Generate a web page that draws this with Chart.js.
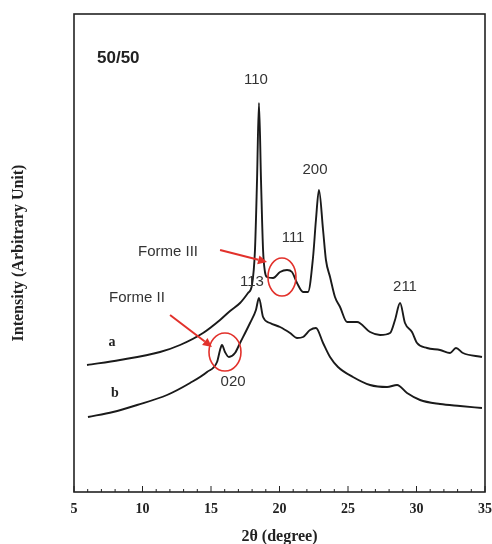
<!DOCTYPE html>
<html>
<head>
<meta charset="utf-8">
<script src="https://cdn.jsdelivr.net/npm/chart.js@4/dist/chart.umd.min.js"></script>
<style>
html,body{margin:0;padding:0;background:#fff;}
#wrap{width:492px;height:544px;}
</style>
</head>
<body>
<div id="wrap"><canvas id="c" width="492" height="544"></canvas></div>
<script>
// ---- data (2θ in degrees, intensity in arbitrary units) ----
const degA = [5.95, 8.36, 11.28, 12.74, 14.42, 15.66, 16.39, 17.12, 17.70, 17.99, 18.21, 18.36, 18.50, 18.65, 18.80, 18.94, 19.09, 19.53, 20.04, 20.55, 20.91, 21.28, 21.72, 22.08, 22.45, 22.66, 22.88, 23.18, 23.39, 23.69, 24.05, 24.42, 24.93, 25.66, 26.61, 27.34, 28.07, 28.43, 28.80, 29.16, 29.67, 30.04, 30.77, 31.72, 32.45, 32.88, 33.39, 34.78];
const intA = [127, 132, 140, 147, 159, 172, 181, 189, 199, 207, 242, 312, 389, 312, 242, 220, 215, 214, 220, 222, 220, 209, 200, 200, 235, 272, 302, 262, 232, 215, 195, 185, 170, 170, 160, 157, 159, 172, 189, 169, 160, 149, 144, 142, 139, 144, 139, 135];
const degB = [6.02, 7.85, 9.60, 11.79, 13.47, 14.71, 15.44, 15.66, 15.80, 16.02, 16.31, 16.75, 17.12, 17.85, 18.28, 18.50, 18.80, 19.31, 20.04, 20.77, 21.28, 21.72, 22.23, 22.66, 23.18, 23.69, 24.27, 25.36, 26.61, 27.85, 28.58, 29.31, 30.26, 31.72, 33.18, 34.78];
const intB = [75, 80, 87, 97, 109, 120, 130, 142, 147, 140, 135, 139, 149, 169, 182, 194, 175, 169, 165, 159, 154, 155, 162, 164, 149, 135, 125, 115, 107, 105, 107, 99, 92, 88, 86, 84];
const xTickValues = [5, 10, 15, 20, 25, 30, 35];
const seriesNames = ['a', 'b'];
const xTitle = '2θ (degree)';
const yTitle = 'Intensity (Arbitrary Unit)';
const sampleLabel = '50/50';
const peakLabels = ['110', '200', '111', '113', '211', '020'];
const peakLabelPos = [[18.28, 412], [22.59, 322], [20.99, 254], [17.99, 210], [29.16, 205], [16.61, 110]];
const formeLabels = ['Forme III', 'Forme II'];
const formeLabelPos = [[11.86, 240], [9.60, 194]];
const formeCircles = [[20.18, 215], [16.02, 140]];
const formeArrows = [[[15.66, 242], [19.09, 230]], [[12.01, 177], [15.07, 145]]];
const seriesLabelPos = [[7.77, 150], [7.99, 99]];
const sampleLabelPos = [6.68, 434];

const SANS = '"Liberation Sans", Arial, sans-serif';
const SERIF = '"Liberation Serif", "Times New Roman", serif';
const RED = '#e2312b';

const decor = {
  id: 'decor',
  afterDatasetsDraw(chart) {
    const ctx = chart.ctx, xs = chart.scales.x, ys = chart.scales.y, ca = chart.chartArea;
    const px = v => xs.getPixelForValue(v), py = v => ys.getPixelForValue(v);
    ctx.save();
    // frame
    ctx.strokeStyle = '#222'; ctx.lineWidth = 1.6;
    ctx.strokeRect(ca.left, ca.top, ca.right - ca.left, ca.bottom - ca.top);
    // inward minor / major ticks
    ctx.lineWidth = 1;
    for (let d = xs.min; d <= xs.max; d++) {
      const x = px(d), len = (d % 5 === 0) ? 6 : 3;
      ctx.beginPath(); ctx.moveTo(x, ca.bottom); ctx.lineTo(x, ca.bottom - len); ctx.stroke();
    }
    // sample label
    ctx.fillStyle = '#222'; ctx.textBaseline = 'middle';
    ctx.font = 'bold 17px ' + SANS; ctx.textAlign = 'left';
    ctx.fillText(sampleLabel, px(sampleLabelPos[0]), py(sampleLabelPos[1]));
    // peak labels
    ctx.font = '15px ' + SANS; ctx.textAlign = 'center'; ctx.fillStyle = '#333';
    peakLabels.forEach((t, i) => ctx.fillText(t, px(peakLabelPos[i][0]), py(peakLabelPos[i][1])));
    formeLabels.forEach((t, i) => ctx.fillText(t, px(formeLabelPos[i][0]), py(formeLabelPos[i][1])));
    // series labels
    ctx.font = 'bold 14px ' + SERIF; ctx.fillStyle = '#222';
    seriesNames.forEach((t, i) => ctx.fillText(t, px(seriesLabelPos[i][0]), py(seriesLabelPos[i][1])));
    // red circles
    ctx.strokeStyle = RED; ctx.lineWidth = 1.6;
    const radii = [[14, 19], [16, 19]];
    formeCircles.forEach((c, i) => {
      ctx.beginPath();
      ctx.ellipse(px(c[0]), py(c[1]), radii[i][0], radii[i][1], 0, 0, Math.PI * 2);
      ctx.stroke();
    });
    // red arrows
    ctx.fillStyle = RED; ctx.lineWidth = 2;
    formeArrows.forEach(a => {
      const x1 = px(a[0][0]), y1 = py(a[0][1]), x2 = px(a[1][0]), y2 = py(a[1][1]);
      const ang = Math.atan2(y2 - y1, x2 - x1), hl = 9, hw = 4.5;
      const bx = x2 - hl * Math.cos(ang), by = y2 - hl * Math.sin(ang);
      ctx.beginPath(); ctx.moveTo(x1, y1); ctx.lineTo(bx, by); ctx.stroke();
      ctx.beginPath();
      ctx.moveTo(x2, y2);
      ctx.lineTo(bx + hw * Math.sin(ang), by - hw * Math.cos(ang));
      ctx.lineTo(bx - hw * Math.sin(ang), by + hw * Math.cos(ang));
      ctx.closePath(); ctx.fill();
    });
    ctx.restore();
  }
};

const mk = (xs, ys) => xs.map((x, i) => ({x, y: ys[i]}));

new Chart(document.getElementById('c'), {
  type: 'line',
  data: {
    datasets: [
      {label: seriesNames[0], data: mk(degA, intA), borderColor: '#1a1a1a', borderWidth: 1.9, pointRadius: 0, cubicInterpolationMode: 'monotone', fill: false},
      {label: seriesNames[1], data: mk(degB, intB), borderColor: '#1a1a1a', borderWidth: 1.9, pointRadius: 0, cubicInterpolationMode: 'monotone', fill: false}
    ]
  },
  options: {
    responsive: false,
    animation: false,
    devicePixelRatio: 1,
    layout: {padding: {top: 14, right: 7, left: 0, bottom: 0}},
    plugins: {legend: {display: false}, tooltip: {enabled: false}},
    scales: {
      x: {
        type: 'linear', min: 5, max: 35,
        afterBuildTicks: s => { s.ticks = xTickValues.map(v => ({value: v})); },
        afterFit: s => { s.height = 52; s.paddingLeft = 0; s.paddingRight = 0; },
        grid: {display: false, drawTicks: false},
        border: {display: false},
        ticks: {padding: 9, color: '#222', font: {family: SERIF, size: 14, weight: 'bold'}, maxRotation: 0},
        title: {display: true, text: xTitle, color: '#222', font: {family: SERIF, size: 16, weight: 'bold', lineHeight: 0.9}, padding: {top: 0, bottom: 0}}
      },
      y: {
        min: 0, max: 478,
        afterFit: s => { s.width = 74; s.paddingTop = 0; s.paddingBottom = 0; },
        grid: {display: false, drawTicks: false},
        border: {display: false},
        ticks: {display: false},
        title: {display: true, text: yTitle, color: '#222', font: {family: SERIF, size: 16, weight: 'bold'}, padding: {top: 9, bottom: 0}}
      }
    }
  },
  plugins: [decor]
});
</script>
</body>
</html>
